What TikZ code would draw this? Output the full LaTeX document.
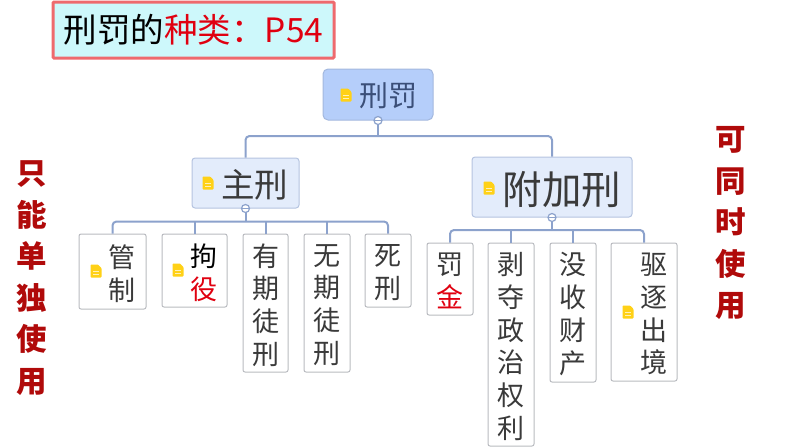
\documentclass[tikz,border=0pt]{standalone}
\usepackage{xcolor}
\usepackage{fontspec}
\setmainfont{Noto Sans CJK SC}
\usetikzlibrary{positioning}
\definecolor{titlered}{HTML}{EE6A6E}
\definecolor{titlefill}{HTML}{CDF8FB}
\definecolor{rootfill}{HTML}{B5CEFA}
\definecolor{rootedge}{HTML}{A3B8DE}
\definecolor{rootink}{HTML}{3B4F78}
\definecolor{topicfill}{HTML}{E3ECFB}
\definecolor{topicedge}{HTML}{B5C4E0}
\definecolor{inkgray}{HTML}{3A3A3A}
\definecolor{leafedge}{HTML}{B9BBC0}
\definecolor{linkblue}{HTML}{8CA2CC}
\definecolor{notegold}{HTML}{FFD117}
\definecolor{sidered}{HTML}{B00A0A}
\definecolor{markred}{HTML}{E00010}

\begin{document}
\begin{tikzpicture}[
  x=1pt, y=-1pt,
  titlebox/.style={draw=titlered, fill=titlefill, line width=3pt, rounded corners=1pt,
                   minimum width=281pt, minimum height=56pt, inner sep=0pt,
                   font=\fontsize{33.5}{33.5}\selectfont},
  rootbox/.style={draw=rootedge, fill=rootfill, line width=1pt, rounded corners=5pt,
                  minimum width=110pt, minimum height=51pt, inner sep=0pt},
  topicbox/.style={draw=topicedge, fill=topicfill, line width=1pt, rounded corners=3pt,
                   inner sep=0pt},
  leafbox/.style={draw=leafedge, fill=white, line width=1pt, rounded corners=2pt,
                  inner sep=0pt},
  leaftext/.style={inner sep=0pt, align=center, text=inkgray,
                   font=\fontsize{27}{32.8}\selectfont},
  sidetext/.style={inner sep=0pt, align=center, text=sidered,
                   font=\fontsize{30.5}{41.5}\selectfont\bfseries},
  link/.style={draw=linkblue, line width=2pt, rounded corners=4pt},
  foldmark/.style={circle, draw=linkblue, fill=white, line width=1.2pt, minimum size=8pt,
                   inner sep=0pt,
                   path picture={\draw[linkblue, line width=1pt]
                     (path picture bounding box.west) -- (path picture bounding box.east);}},
  noteicon/.pic={
    \fill[notegold, rounded corners=.8pt] (-5.5,-6.5) -- (2,-6.5) -- (5.5,-3) -- (5.5,6.5) -- (-5.5,6.5) -- cycle;
    \draw[white!70!notegold, line width=.7pt] (-3,0) -- (3,0) (-3,3) -- (3,3);
  },
]
\useasboundingbox (0,0) rectangle (794,447);

\node[titlebox] (title) at (193.5,30) {刑罚的\textcolor{markred}{种类：P54}};

% main tree
\node[rootbox] (root) at (378,94.5) {};
\node[inner sep=0pt, text=rootink, font=\fontsize{29}{29}\selectfont] (roottext) at (388,96) {刑罚};
\pic at (346,95) {noteicon};

\node[topicbox, minimum width=107pt, minimum height=50pt] (zhu) at (245.5,183) {};
\node[inner sep=0pt, text=inkgray, font=\fontsize{33.5}{34}\selectfont] (zhutext) at (254.5,185) {主刑};
\pic at (208,183) {noteicon};

\node[topicbox, minimum width=160pt, minimum height=60pt] (fu) at (552,187) {};
\node[inner sep=0pt, text=inkgray, font=\fontsize{39.5}{40}\selectfont] (futext) at (562,190) {附加刑};
\pic at (489,188) {noteicon};

% left leaves
\node[leafbox, minimum width=67pt, minimum height=75pt] (guan) at (112.5,271.5) {};
\node[leaftext] (guantext) at (122,273.5) {管\\制};
\pic at (96,271) {noteicon};
\node[leafbox, minimum width=65pt, minimum height=73pt] (ju) at (194.5,270.5) {};
\node[leaftext] (jutext) at (204,272.5) {\textcolor{black}{拘}\\\textcolor{markred}{役}};
\pic at (178,270) {noteicon};
\node[leafbox, minimum width=45pt, minimum height=138pt] (youqi) at (265.5,303) {};
\node[leaftext] (youqitext) at (265.5,305) {有\\期\\徒\\刑};
\node[leafbox, minimum width=46pt, minimum height=138pt] (wuqi) at (327,303) {};
\node[leaftext] (wuqitext) at (327,305) {无\\期\\徒\\刑};
\node[leafbox, minimum width=46pt, minimum height=73pt] (si) at (388,270.5) {};
\node[leaftext] (sitext) at (388,272.5) {死\\刑};

% right leaves
\node[leafbox, minimum width=46pt, minimum height=72pt] (fa) at (450,279) {};
\node[leaftext] (fatext) at (450,281) {罚\\\textcolor{markred}{金}};
\node[leafbox, minimum width=46pt, minimum height=203pt] (boduo) at (511,344.5) {};
\node[leaftext] (boduotext) at (511,346.5) {剥\\夺\\政\\治\\权\\利};
\node[leafbox, minimum width=46pt, minimum height=139pt] (moshou) at (573,312.5) {};
\node[leaftext] (moshoutext) at (573,314) {没\\收\\财\\产};
\node[leafbox, minimum width=66pt, minimum height=138pt] (qu) at (644,312) {};
\node[leaftext] (qutext) at (654,314) {驱\\逐\\出\\境};
\pic at (628,312) {noteicon};

\node[sidetext] (lefttext) at (32,278) {只\\能\\单\\独\\使\\用};
\node[sidetext] (righttext) at (731,223) {可\\同\\时\\使\\用};

% connectors
\coordinate (rootbus) at (378,136);
\coordinate (zhubus) at (245.5,221.5);
\coordinate (fubus) at (552,230);

\draw[link] (zhu.north) |- (rootbus) -| (fu.north);
\draw[link] (root.south) -- (rootbus);

\draw[link] (guan.north) |- (zhubus) -| (si.north);
\draw[link] (zhu.south) -- (zhubus);
\foreach \leaf in {ju,youqi,wuqi}
  \draw[link] (\leaf.north) -- (\leaf.north |- zhubus);

\draw[link] (fa.north) |- (fubus) -| (qu.north);
\draw[link] (fu.south) -- (fubus);
\foreach \leaf in {boduo,moshou}
  \draw[link] (\leaf.north) -- (\leaf.north |- fubus);

\node[foldmark] (rootfold) at (root.south) {};
\node[foldmark] (zhufold) at (zhu.south) {};
\node[foldmark] (fufold) at (fu.south) {};

\end{tikzpicture}
\end{document}
